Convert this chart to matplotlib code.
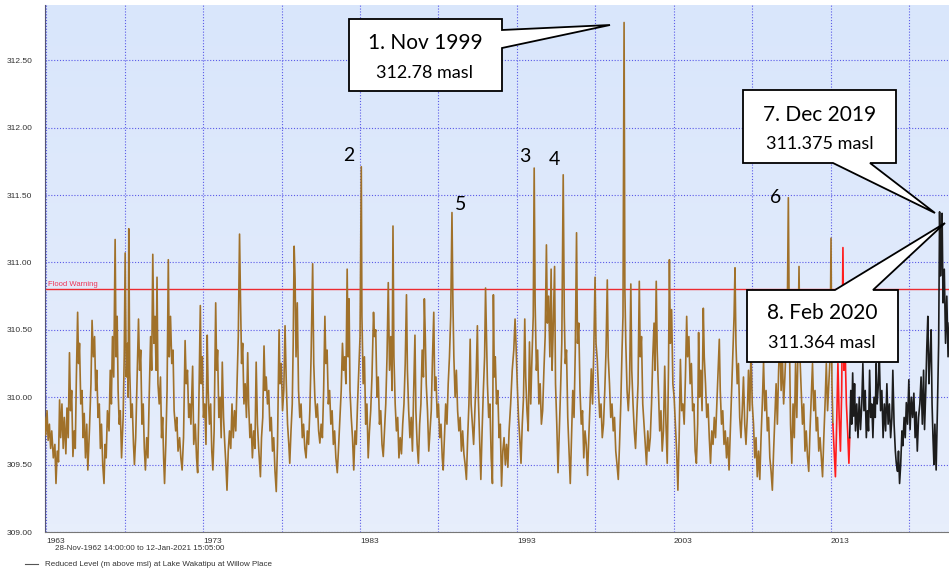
import matplotlib.pyplot as plt
import numpy as np
from matplotlib.patches import Polygon
from matplotlib.colors import LinearSegmentedColormap

W, H = 949, 574

# lake level trace, (decimal year, level in m)
brown_1962_72 = [
    (1962.90, 309.85), (1962.97, 309.72), (1963.05, 309.90), (1963.12, 309.68), (1963.20, 309.80),
    (1963.28, 309.62), (1963.35, 309.75), (1963.45, 309.55), (1963.55, 309.65), (1963.62, 309.36),
    (1963.70, 309.60), (1963.78, 309.52), (1963.85, 309.98), (1963.92, 309.70), (1964.00, 309.95),
    (1964.08, 309.62), (1964.15, 309.85), (1964.25, 309.58), (1964.32, 309.92), (1964.40, 309.70),
    (1964.48, 310.33), (1964.55, 309.90), (1964.62, 310.05), (1964.70, 309.56), (1964.78, 309.75),
    (1964.85, 309.62), (1964.92, 310.15), (1965.00, 310.63), (1965.06, 310.25), (1965.12, 310.40),
    (1965.20, 309.95), (1965.28, 310.05), (1965.35, 309.70), (1965.42, 309.88), (1965.50, 309.55),
    (1965.58, 309.80), (1965.65, 309.46), (1965.75, 309.75), (1965.85, 310.10), (1965.92, 310.57),
    (1966.00, 310.30), (1966.08, 310.45), (1966.15, 310.05), (1966.22, 310.20), (1966.30, 309.85),
    (1966.38, 309.95), (1966.45, 309.62), (1966.52, 309.80), (1966.60, 309.50), (1966.68, 309.36),
    (1966.75, 309.65), (1966.82, 309.55), (1966.90, 309.90), (1967.00, 309.75), (1967.08, 310.20),
    (1967.15, 309.95), (1967.22, 310.45), (1967.30, 310.15), (1967.39, 311.17), (1967.45, 310.30),
    (1967.52, 310.60), (1967.58, 310.05), (1967.65, 309.80), (1967.72, 309.90), (1967.80, 309.55),
    (1967.90, 309.85), (1967.97, 310.30), (1968.03, 311.07), (1968.10, 310.15), (1968.18, 310.40),
    (1968.22, 310.00), (1968.26, 311.25), (1968.32, 310.20), (1968.40, 309.85), (1968.48, 309.95),
    (1968.56, 309.65), (1968.62, 309.50), (1968.70, 309.70), (1968.78, 310.10), (1968.88, 310.58),
    (1968.95, 310.20), (1969.02, 310.35), (1969.10, 309.80), (1969.18, 309.95), (1969.25, 309.62),
    (1969.32, 309.46), (1969.40, 309.70), (1969.48, 309.55), (1969.56, 310.00), (1969.65, 310.45),
    (1969.72, 310.20), (1969.79, 311.06), (1969.86, 310.40), (1969.93, 310.60), (1970.00, 310.20),
    (1970.06, 310.89), (1970.12, 310.10), (1970.20, 309.95), (1970.28, 310.15), (1970.35, 309.70),
    (1970.42, 309.85), (1970.48, 309.55), (1970.54, 309.36), (1970.62, 309.65), (1970.70, 310.05),
    (1970.78, 311.02), (1970.84, 310.30), (1970.92, 310.60), (1971.00, 310.25), (1971.08, 310.35),
    (1971.15, 309.90), (1971.25, 309.75), (1971.32, 309.85), (1971.40, 309.60), (1971.50, 309.70),
    (1971.58, 309.55), (1971.66, 309.46), (1971.75, 309.70), (1971.85, 310.42), (1971.92, 310.10),
    (1972.00, 310.20), (1972.08, 309.85), (1972.15, 309.95), (1972.22, 309.80), (1972.33, 310.23),
    (1972.40, 309.65), (1972.50, 309.80), (1972.58, 309.55),
]

brown_1972_82 = [
    (1972.65, 309.44), (1972.72, 309.90), (1972.82, 310.68), (1972.88, 310.10), (1972.95, 310.30),
    (1973.02, 309.85), (1973.10, 309.95), (1973.18, 309.65), (1973.26, 310.46), (1973.32, 310.05),
    (1973.40, 309.80), (1973.48, 309.95), (1973.55, 309.60), (1973.62, 309.46), (1973.70, 309.75),
    (1973.80, 310.70), (1973.86, 310.20), (1973.92, 310.35), (1974.00, 309.85), (1974.08, 310.00),
    (1974.15, 309.70), (1974.22, 310.26), (1974.30, 309.85), (1974.38, 309.65), (1974.45, 309.50),
    (1974.52, 309.31), (1974.60, 309.60), (1974.68, 309.75), (1974.76, 309.62), (1974.84, 309.95),
    (1974.92, 309.70), (1975.00, 309.90), (1975.08, 309.75), (1975.16, 310.10), (1975.24, 310.45),
    (1975.32, 311.21), (1975.38, 310.73), (1975.45, 310.25), (1975.52, 310.40), (1975.60, 309.95),
    (1975.68, 310.10), (1975.76, 309.85), (1975.84, 310.33), (1975.90, 309.95), (1975.98, 309.70),
    (1976.06, 309.80), (1976.14, 309.55), (1976.22, 309.75), (1976.30, 309.62), (1976.38, 310.26),
    (1976.46, 309.80), (1976.55, 309.60), (1976.65, 309.41), (1976.72, 309.70), (1976.80, 309.85),
    (1976.88, 310.38), (1976.95, 310.05), (1977.02, 310.15), (1977.10, 309.95), (1977.18, 310.05),
    (1977.26, 309.75), (1977.34, 309.85), (1977.42, 309.60), (1977.50, 309.70), (1977.58, 309.45),
    (1977.66, 309.30), (1977.74, 309.65), (1977.84, 310.50), (1977.90, 310.10), (1977.98, 310.25),
    (1978.06, 309.90), (1978.14, 310.05), (1978.22, 310.53), (1978.30, 310.10), (1978.38, 309.80),
    (1978.46, 309.65), (1978.52, 309.51), (1978.60, 309.75), (1978.68, 309.95), (1978.74, 310.40),
    (1978.80, 311.12), (1978.86, 310.88), (1978.92, 310.30), (1979.00, 310.70), (1979.08, 310.05),
    (1979.16, 309.85), (1979.24, 309.95), (1979.32, 309.70), (1979.40, 309.80), (1979.48, 309.62),
    (1979.56, 309.55), (1979.64, 309.75), (1979.72, 309.65), (1979.80, 309.90), (1979.88, 310.30),
    (1979.98, 310.99), (1980.05, 310.25), (1980.12, 310.00), (1980.20, 309.85), (1980.28, 309.95),
    (1980.36, 309.75), (1980.44, 309.66), (1980.52, 309.80), (1980.60, 309.70), (1980.68, 310.05),
    (1980.76, 310.60), (1980.82, 310.25), (1980.90, 310.35), (1980.98, 309.95), (1981.06, 310.05),
    (1981.14, 309.80), (1981.22, 309.90), (1981.30, 309.65), (1981.38, 309.75), (1981.46, 309.55),
    (1981.55, 309.44), (1981.62, 309.60), (1981.70, 309.80), (1981.80, 310.05), (1981.88, 310.40),
    (1981.95, 310.20), (1982.02, 310.30), (1982.10, 310.10), (1982.18, 310.95), (1982.24, 310.30),
    (1982.30, 310.73), (1982.36, 310.05), (1982.44, 309.85), (1982.52, 309.70),
]

brown_1982_92 = [
    (1982.60, 309.46), (1982.68, 309.75), (1982.76, 309.65), (1982.84, 309.95), (1982.92, 310.20),
    (1983.00, 310.45), (1983.08, 311.71), (1983.12, 310.60), (1983.20, 310.10), (1983.28, 310.30),
    (1983.36, 309.80), (1983.44, 309.95), (1983.52, 309.55), (1983.60, 309.75), (1983.68, 309.90),
    (1983.76, 310.15), (1983.86, 310.63), (1983.92, 310.45), (1984.00, 310.50), (1984.08, 310.00),
    (1984.16, 310.15), (1984.24, 309.80), (1984.32, 309.90), (1984.40, 309.65), (1984.48, 309.56),
    (1984.56, 309.75), (1984.64, 309.95), (1984.72, 310.30), (1984.80, 310.85), (1984.88, 310.20),
    (1984.96, 310.45), (1985.04, 310.05), (1985.10, 311.27), (1985.16, 310.30), (1985.24, 309.95),
    (1985.32, 309.75), (1985.40, 309.85), (1985.48, 309.55), (1985.56, 309.70), (1985.64, 309.58),
    (1985.72, 309.80), (1985.80, 309.95), (1985.88, 310.25), (1985.96, 310.76), (1986.02, 310.20),
    (1986.10, 309.90), (1986.18, 309.70), (1986.26, 309.85), (1986.34, 309.60), (1986.42, 310.05),
    (1986.50, 310.46), (1986.56, 309.90), (1986.64, 309.65), (1986.72, 309.51), (1986.80, 309.80),
    (1986.88, 309.95), (1986.96, 310.35), (1987.04, 310.15), (1987.10, 310.73), (1987.16, 310.45),
    (1987.22, 310.10), (1987.30, 309.90), (1987.38, 309.60), (1987.46, 309.75), (1987.54, 309.90),
    (1987.62, 310.30), (1987.70, 310.63), (1987.76, 310.05), (1987.84, 310.15), (1987.92, 309.85),
    (1988.00, 309.95), (1988.08, 309.70), (1988.16, 309.80), (1988.24, 309.55), (1988.30, 309.46),
    (1988.38, 309.70), (1988.46, 309.95), (1988.54, 309.80), (1988.62, 310.10), (1988.70, 310.30),
    (1988.78, 310.60), (1988.86, 311.37), (1988.92, 310.70), (1988.98, 310.30), (1989.06, 310.00),
    (1989.14, 310.20), (1989.22, 309.90), (1989.30, 309.75), (1989.38, 309.85), (1989.46, 309.60),
    (1989.54, 309.75), (1989.62, 309.58), (1989.70, 309.50), (1989.78, 309.39), (1989.86, 309.70),
    (1989.94, 309.95), (1990.02, 310.43), (1990.08, 309.95), (1990.16, 309.80), (1990.24, 309.65),
    (1990.32, 309.90), (1990.40, 310.15), (1990.48, 310.53), (1990.54, 310.00), (1990.62, 309.70),
    (1990.70, 309.39), (1990.78, 309.75), (1990.86, 310.05), (1990.94, 310.30), (1991.00, 310.81),
    (1991.06, 310.45), (1991.12, 310.10), (1991.20, 309.85), (1991.28, 309.95), (1991.36, 309.55),
    (1991.44, 309.36), (1991.50, 310.76), (1991.56, 310.15), (1991.62, 310.30), (1991.70, 309.95),
    (1991.78, 310.05), (1991.86, 309.70), (1991.94, 309.80),
]

brown_1992_02 = [
    (1992.02, 309.34), (1992.10, 309.60), (1992.18, 309.70), (1992.26, 309.50), (1992.34, 309.65),
    (1992.42, 309.48), (1992.50, 309.75), (1992.60, 309.95), (1992.70, 310.20), (1992.80, 310.35),
    (1992.88, 310.58), (1992.94, 310.40), (1993.02, 310.10), (1993.10, 309.85), (1993.18, 309.70),
    (1993.26, 309.51), (1993.34, 309.80), (1993.42, 310.00), (1993.50, 310.58), (1993.56, 310.15),
    (1993.64, 309.90), (1993.72, 309.75), (1993.80, 310.41), (1993.88, 309.95), (1993.96, 310.30),
    (1994.04, 310.60), (1994.10, 311.70), (1994.16, 310.70), (1994.24, 310.20), (1994.32, 310.35),
    (1994.40, 309.95), (1994.48, 310.10), (1994.56, 309.80), (1994.64, 309.90), (1994.72, 310.20),
    (1994.80, 310.45), (1994.88, 311.13), (1994.94, 310.55), (1995.02, 310.75), (1995.10, 310.30),
    (1995.18, 310.95), (1995.24, 310.20), (1995.30, 310.45), (1995.40, 310.97), (1995.46, 310.10),
    (1995.54, 309.80), (1995.62, 309.44), (1995.70, 309.75), (1995.78, 310.05), (1995.86, 310.40),
    (1995.95, 311.65), (1996.02, 310.60), (1996.08, 310.25), (1996.16, 310.35), (1996.24, 309.85),
    (1996.32, 309.60), (1996.40, 309.36), (1996.48, 309.70), (1996.56, 310.05), (1996.64, 309.85),
    (1996.72, 310.35), (1996.80, 311.22), (1996.86, 310.40), (1996.94, 310.55), (1997.02, 310.05),
    (1997.10, 309.80), (1997.18, 309.90), (1997.26, 309.55), (1997.34, 309.75), (1997.42, 309.65),
    (1997.50, 309.42), (1997.58, 309.70), (1997.66, 309.95), (1997.74, 310.21), (1997.82, 309.95),
    (1997.90, 310.35), (1997.98, 310.89), (1998.04, 310.40), (1998.12, 310.28), (1998.20, 310.05),
    (1998.28, 309.85), (1998.36, 309.95), (1998.44, 309.70), (1998.52, 309.80), (1998.60, 310.05),
    (1998.68, 310.35), (1998.76, 310.87), (1998.82, 310.30), (1998.90, 310.10), (1998.98, 309.85),
    (1999.06, 309.95), (1999.14, 309.75), (1999.22, 309.85), (1999.30, 309.60), (1999.38, 309.50),
    (1999.46, 309.39), (1999.54, 309.65), (1999.62, 309.95), (1999.70, 310.35), (1999.76, 310.60),
    (1999.83, 312.78), (1999.88, 310.80), (1999.94, 310.40), (2000.02, 310.05), (2000.10, 309.90),
    (2000.18, 310.10), (2000.26, 310.84), (2000.32, 310.20), (2000.40, 309.95), (2000.48, 309.75),
    (2000.56, 309.62), (2000.64, 309.85), (2000.72, 310.10), (2000.80, 310.86), (2000.86, 310.30),
    (2000.94, 310.45), (2001.02, 309.95), (2001.10, 309.80), (2001.18, 309.65), (2001.26, 309.50),
    (2001.34, 309.75), (2001.42, 309.60), (2001.50, 309.70), (2001.58, 309.95), (2001.66, 310.30),
    (2001.74, 310.55), (2001.80, 310.20), (2001.88, 310.86), (2001.94, 310.35),
]

brown_2002_13 = [
    (2002.02, 310.05), (2002.10, 309.75), (2002.18, 309.90), (2002.26, 309.60), (2002.34, 309.75),
    (2002.42, 310.23), (2002.50, 309.80), (2002.58, 309.51), (2002.66, 310.20), (2002.72, 311.02),
    (2002.78, 310.40), (2002.86, 310.65), (2002.94, 310.10), (2003.02, 310.00), (2003.10, 309.80),
    (2003.18, 309.60), (2003.26, 309.31), (2003.34, 309.70), (2003.42, 310.28), (2003.50, 309.90),
    (2003.58, 309.95), (2003.66, 309.80), (2003.74, 310.15), (2003.82, 310.60), (2003.88, 310.30),
    (2003.96, 310.45), (2004.04, 310.10), (2004.12, 310.25), (2004.20, 309.90), (2004.28, 309.95),
    (2004.36, 309.60), (2004.44, 309.51), (2004.52, 309.80), (2004.58, 310.48), (2004.64, 310.00),
    (2004.72, 310.20), (2004.80, 309.90), (2004.88, 310.66), (2004.94, 310.30), (2005.02, 310.10),
    (2005.10, 309.85), (2005.18, 309.95), (2005.26, 309.70), (2005.34, 309.51), (2005.42, 309.75),
    (2005.50, 309.65), (2005.58, 309.85), (2005.66, 309.70), (2005.74, 309.95), (2005.82, 310.20),
    (2005.90, 310.43), (2005.96, 310.05), (2006.04, 309.80), (2006.12, 309.90), (2006.20, 309.65),
    (2006.28, 309.75), (2006.36, 309.55), (2006.44, 309.70), (2006.52, 309.46), (2006.60, 309.75),
    (2006.68, 310.05), (2006.76, 310.35), (2006.84, 310.60), (2006.90, 310.96), (2006.96, 310.40),
    (2007.04, 310.10), (2007.12, 310.25), (2007.20, 309.85), (2007.28, 309.70), (2007.36, 309.90),
    (2007.44, 310.15), (2007.52, 309.80), (2007.60, 309.65), (2007.68, 309.85), (2007.76, 310.20),
    (2007.84, 309.90), (2007.92, 310.35), (2008.00, 309.95), (2008.08, 309.80), (2008.16, 309.55),
    (2008.24, 309.70), (2008.32, 309.41), (2008.40, 309.60), (2008.48, 309.39), (2008.56, 309.70),
    (2008.64, 309.95), (2008.72, 310.26), (2008.80, 309.90), (2008.88, 310.05), (2008.96, 309.75),
    (2009.04, 309.85), (2009.12, 309.55), (2009.20, 309.45), (2009.28, 309.31), (2009.36, 309.60),
    (2009.44, 309.85), (2009.52, 310.10), (2009.60, 309.80), (2009.68, 310.20), (2009.76, 310.45),
    (2009.84, 310.05), (2009.92, 310.30), (2010.00, 309.95), (2010.08, 310.15), (2010.16, 310.40),
    (2010.24, 310.70), (2010.30, 311.48), (2010.36, 310.50), (2010.44, 309.80), (2010.52, 309.51),
    (2010.60, 309.95), (2010.68, 309.70), (2010.76, 310.25), (2010.84, 309.85), (2010.92, 310.40),
    (2010.98, 310.97), (2011.04, 310.30), (2011.12, 310.05), (2011.20, 309.80), (2011.28, 309.95),
    (2011.36, 309.60), (2011.44, 309.75), (2011.52, 309.56), (2011.60, 309.45), (2011.68, 309.75),
    (2011.76, 310.00), (2011.84, 310.25), (2011.92, 309.90), (2012.00, 310.05), (2012.08, 309.75),
    (2012.16, 309.85), (2012.24, 309.60), (2012.32, 309.70), (2012.40, 309.55), (2012.48, 309.41),
    (2012.56, 309.70), (2012.64, 309.95), (2012.72, 310.25), (2012.80, 309.90), (2012.88, 310.10),
    (2012.96, 310.30), (2013.02, 311.18), (2013.08, 310.10), (2013.14, 309.80),
]

red_2013_14 = [
    (2013.14, 309.80), (2013.22, 309.60), (2013.30, 309.41), (2013.38, 309.80), (2013.46, 310.25),
    (2013.54, 309.85), (2013.62, 309.60), (2013.70, 310.05), (2013.78, 311.11), (2013.84, 310.20),
    (2013.92, 310.35), (2014.00, 309.95), (2014.08, 309.75), (2014.16, 309.51), (2014.21, 309.70),
]

black_2014_20 = [
    (2014.21, 309.70), (2014.28, 310.05), (2014.34, 309.80), (2014.40, 310.18), (2014.46, 309.86),
    (2014.52, 310.10), (2014.58, 309.75), (2014.66, 309.95), (2014.74, 309.70), (2014.82, 310.00),
    (2014.90, 309.76), (2014.98, 309.95), (2015.05, 310.25), (2015.12, 309.90), (2015.20, 310.05),
    (2015.27, 309.70), (2015.34, 309.90), (2015.41, 309.75), (2015.48, 310.20), (2015.55, 309.85),
    (2015.62, 309.95), (2015.69, 309.70), (2015.76, 310.00), (2015.84, 309.85), (2015.90, 310.25),
    (2015.96, 309.95), (2016.04, 310.10), (2016.10, 310.30), (2016.18, 309.90), (2016.26, 310.05),
    (2016.34, 309.70), (2016.42, 309.95), (2016.50, 309.75), (2016.58, 310.10), (2016.66, 309.80),
    (2016.74, 309.95), (2016.82, 309.70), (2016.90, 309.85), (2016.96, 310.20), (2017.04, 309.80),
    (2017.12, 309.60), (2017.18, 309.51), (2017.26, 309.45), (2017.32, 309.60), (2017.39, 309.36),
    (2017.46, 309.50), (2017.54, 309.75), (2017.60, 309.64), (2017.68, 309.85), (2017.75, 309.70),
    (2017.82, 309.96), (2017.90, 309.80), (2017.98, 310.13), (2018.06, 309.76), (2018.14, 310.00),
    (2018.22, 309.85), (2018.30, 310.03), (2018.38, 309.70), (2018.45, 309.89), (2018.52, 309.60),
    (2018.60, 309.85), (2018.68, 309.95), (2018.76, 310.15), (2018.84, 309.80), (2018.92, 310.20),
    (2018.98, 309.76), (2019.06, 310.05), (2019.12, 310.35), (2019.19, 310.60), (2019.26, 310.10),
    (2019.33, 310.30), (2019.40, 310.50), (2019.46, 309.95), (2019.52, 309.70), (2019.58, 309.50),
    (2019.64, 309.80), (2019.72, 309.46), (2019.80, 309.90), (2019.88, 310.40), (2019.94, 311.375),
    (2020.00, 310.90), (2020.06, 311.20), (2020.10, 311.364), (2020.16, 310.70), (2020.24, 310.95),
    (2020.32, 310.40), (2020.40, 310.75), (2020.48, 310.30), (2020.56, 310.55),
]

flood_warning = 310.8
year_labels = [1963, 1973, 1983, 1993, 2003, 2013]
level_ticks = [309.0, 309.5, 310.0, 310.5, 311.0, 311.5, 312.0, 312.5]

# numbered peaks: label, year, level, text offset in points
peak_labels = ["2", "3", "4", "5", "6"]
peak_years = [1983.08, 1994.10, 1995.95, 1988.86, 2010.30]
peak_levels = [311.71, 311.70, 311.65, 311.37, 311.48]
peak_offsets = [(-9, 2), (-7, 2), (-6, 5), (6, 0), (-9, -6)]


def px(x, y):
    # picture pixels -> figure fraction
    return x / W, 1 - y / H


fig = plt.figure(figsize=(W / 100, H / 100), dpi=100)
x0, y0 = px(45, 532)
x1, y1 = px(949, 5)
ax = fig.add_axes([x0, y0, x1 - x0, y1 - y0])

# pale blue gradient behind the plot
bg = LinearSegmentedColormap.from_list("bg", ["#e7eefb", "#d9e6fb"])
ax.imshow(np.linspace(0, 1, 64).reshape(-1, 1), cmap=bg, aspect="auto",
          extent=[0, 1, 0, 1], transform=ax.transAxes, origin="lower", zorder=0)

for seg, col in [(brown_1962_72 + brown_1972_82 + brown_1982_92 + brown_1992_02 + brown_2002_13, "#a0712a"),
                 (red_2013_14, "#ff1c1c"), (black_2014_20, "#1c1c1c")]:
    t, lv = zip(*seg)
    ax.plot(t, lv, color=col, lw=1.2, zorder=3)

ax.axhline(flood_warning, color="#ec2a2f", lw=1.0, zorder=2)
ax.text(1963.1, flood_warning + 0.01, "Flood Warning", color="#ee3355", fontsize=5.5,
        family="Liberation Sans", va="bottom")

ax.set_xlim(1962.92, 2020.54)
ax.set_ylim(309.0, 312.91)
ax.set_xticks(np.arange(1963, 2020, 5), minor=True)
ax.set_xticks(year_labels)
ax.set_xticklabels([str(y) for y in year_labels], ha="left")
ax.set_yticks(level_ticks)
ax.set_yticklabels([f"{v:.2f}" for v in level_ticks])
ax.tick_params(length=0, labelsize=6, labelcolor="#333333", pad=9, axis="y")
ax.tick_params(length=0, labelsize=6, labelcolor="#333333", pad=4, axis="x", which="both")
for lab in ax.get_xticklabels() + ax.get_yticklabels():
    lab.set_family("Liberation Sans")

ax.grid(True, which="both", color="#5a5ae8", ls=(0, (1, 1.6)), lw=0.8, zorder=1)
for s in ["top", "right"]:
    ax.spines[s].set_visible(False)
ax.spines["left"].set_color("#555577")
ax.spines["bottom"].set_color("#777777")

for lab, yr, lv, off in zip(peak_labels, peak_years, peak_levels, peak_offsets):
    ax.annotate(lab, (yr, lv), xytext=off, textcoords="offset points", ha="center",
                va="bottom", fontsize=14, family="Lato", zorder=5)

# callout boxes (picture pixels)
callouts = [
    ([(349, 19), (502, 19), (502, 30), (610, 25), (502, 48), (502, 91), (349, 91)],
     (425, 43), "1. Nov 1999", (425, 73), "312.78 masl"),
    ([(743, 90), (896, 90), (896, 163), (870, 163), (935, 213), (833, 163), (743, 163)],
     (820, 115), "7. Dec 2019", (820, 144), "311.375 masl"),
    ([(747, 290), (835, 290), (945, 223), (873, 290), (898, 290), (898, 362), (747, 362)],
     (822, 313), "8. Feb 2020", (822, 343), "311.364 masl"),
]
for pts, p1, t1, p2, t2 in callouts:
    fig.add_artist(Polygon([px(*p) for p in pts], closed=True, transform=fig.transFigure,
                           facecolor="white", edgecolor="black", lw=1.3, zorder=4))
    fig.text(*px(*p1), t1, ha="center", va="center", fontsize=15, family="Lato", zorder=5)
    fig.text(*px(*p2), t2, ha="center", va="center", fontsize=13, family="Lato", zorder=5)

fig.text(*px(55, 549), "28-Nov-1962 14:00:00 to 12-Jan-2021 15:05:00", fontsize=5.8,
         family="Liberation Sans", color="#333333", va="center")
fig.add_artist(plt.Line2D([25 / W, 38 / W], [1 - 564 / H] * 2, color="#555555", lw=0.8))
fig.text(*px(45, 564), "Reduced Level (m above msl) at Lake Wakatipu at Willow Place", fontsize=5.8,
         family="Liberation Sans", color="#333333", va="center")

fig.savefig("out.png", dpi=100)
